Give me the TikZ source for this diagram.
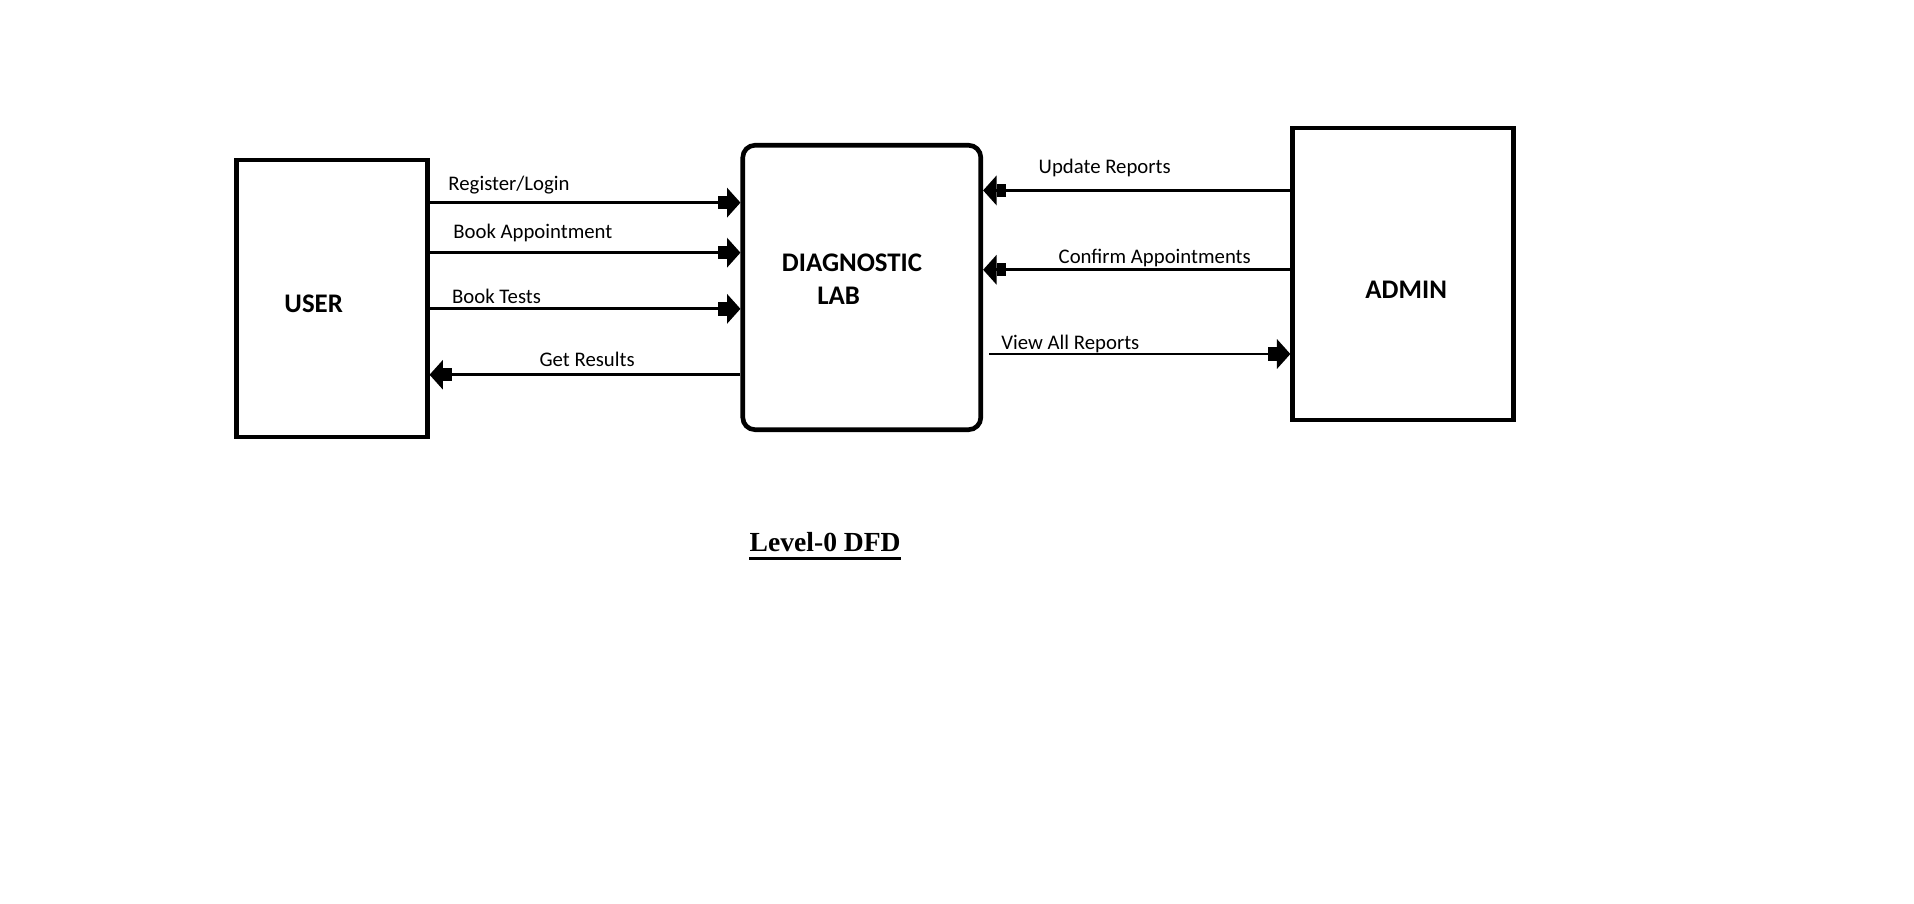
\documentclass[tikz,border=0pt]{standalone}
\usepackage{fontspec}
\setmainfont{Carlito}
\newfontfamily\titlefont{Liberation Serif}
\usetikzlibrary{arrows.meta}

\begin{document}
\begin{tikzpicture}[x=0.5pt, y=-0.5pt,
        box/.style={draw, line width=1.9pt, inner sep=0pt},
        flow/.style={line width=1.1pt, -{Rectangle[length=3.7pt,width=5.5pt] Triangle[length=5.5pt,width=12pt]}},
        lbl/.style={font=\fontsize{8.5}{10}\selectfont, inner sep=0pt},
        big/.style={font=\fontsize{11}{13}\selectfont\bfseries, inner sep=0pt}]
        \useasboundingbox (0,0) rectangle (1568,740);

        % entities and process
        \node [box, minimum width=78pt, minimum height=113.5pt] (user) at (272,244.5) {};
        \node [box, rounded corners=5pt, minimum width=97.5pt, minimum height=116.5pt] (lab) at (706,235.5) {};
        \node [box, minimum width=90.5pt, minimum height=119.5pt] (admin) at (1149.5,224.5) {};

        \node [big] (usertext) at (257,249) {USER};
        \node [big] (labtop) at (698,215) {DIAGNOSTIC};
        \node [big] (labbot) at (687,242) {LAB};
        \node [big] (admintext) at (1152,237) {ADMIN};

        % user <-> lab
        \draw [flow] (user.east |- 0,166) -- (lab.west |- 0,166);
        \draw [flow] (user.east |- 0,207) -- (lab.west |- 0,207);
        \draw [flow] (user.east |- 0,253) -- (lab.west |- 0,253);
        \draw [flow] (lab.west |- 0,307) -- (user.east |- 0,307);

        \node [lbl, anchor=west] (reg) at (367,152) {Register/Login};
        \node [lbl, anchor=west] (book) at (371,191) {Book Appointment};
        \node [lbl, anchor=west] (tests) at (370,243) {Book Tests};
        \node [lbl] (results) at (481,294) {Get Results};

        % admin <-> lab
        \draw [flow] (admin.west |- 0,156) -- (lab.east |- 0,156);
        \draw [flow] (admin.west |- 0,221) -- (lab.east |- 0,221);
        \draw [flow, shorten <=2.5pt] (lab.east |- 0,290) -- (admin.west |- 0,290);

        \node [lbl] (update) at (905,138) {Update Reports};
        \node [lbl] (confirm) at (946,211) {Confirm Appointments};
        \node [lbl, anchor=west] (viewall) at (820,282) {View All Reports};

        % title
        \node [font=\titlefont\fontsize{11.3}{13}\selectfont\bfseries, inner sep=0pt] (title) at (676,444) {Level-0 DFD};
        \draw [line width=1.4pt] ([yshift=-2.5pt]title.south west) -- ([yshift=-2.5pt]title.south east);

    \end{tikzpicture}
\end{document}
